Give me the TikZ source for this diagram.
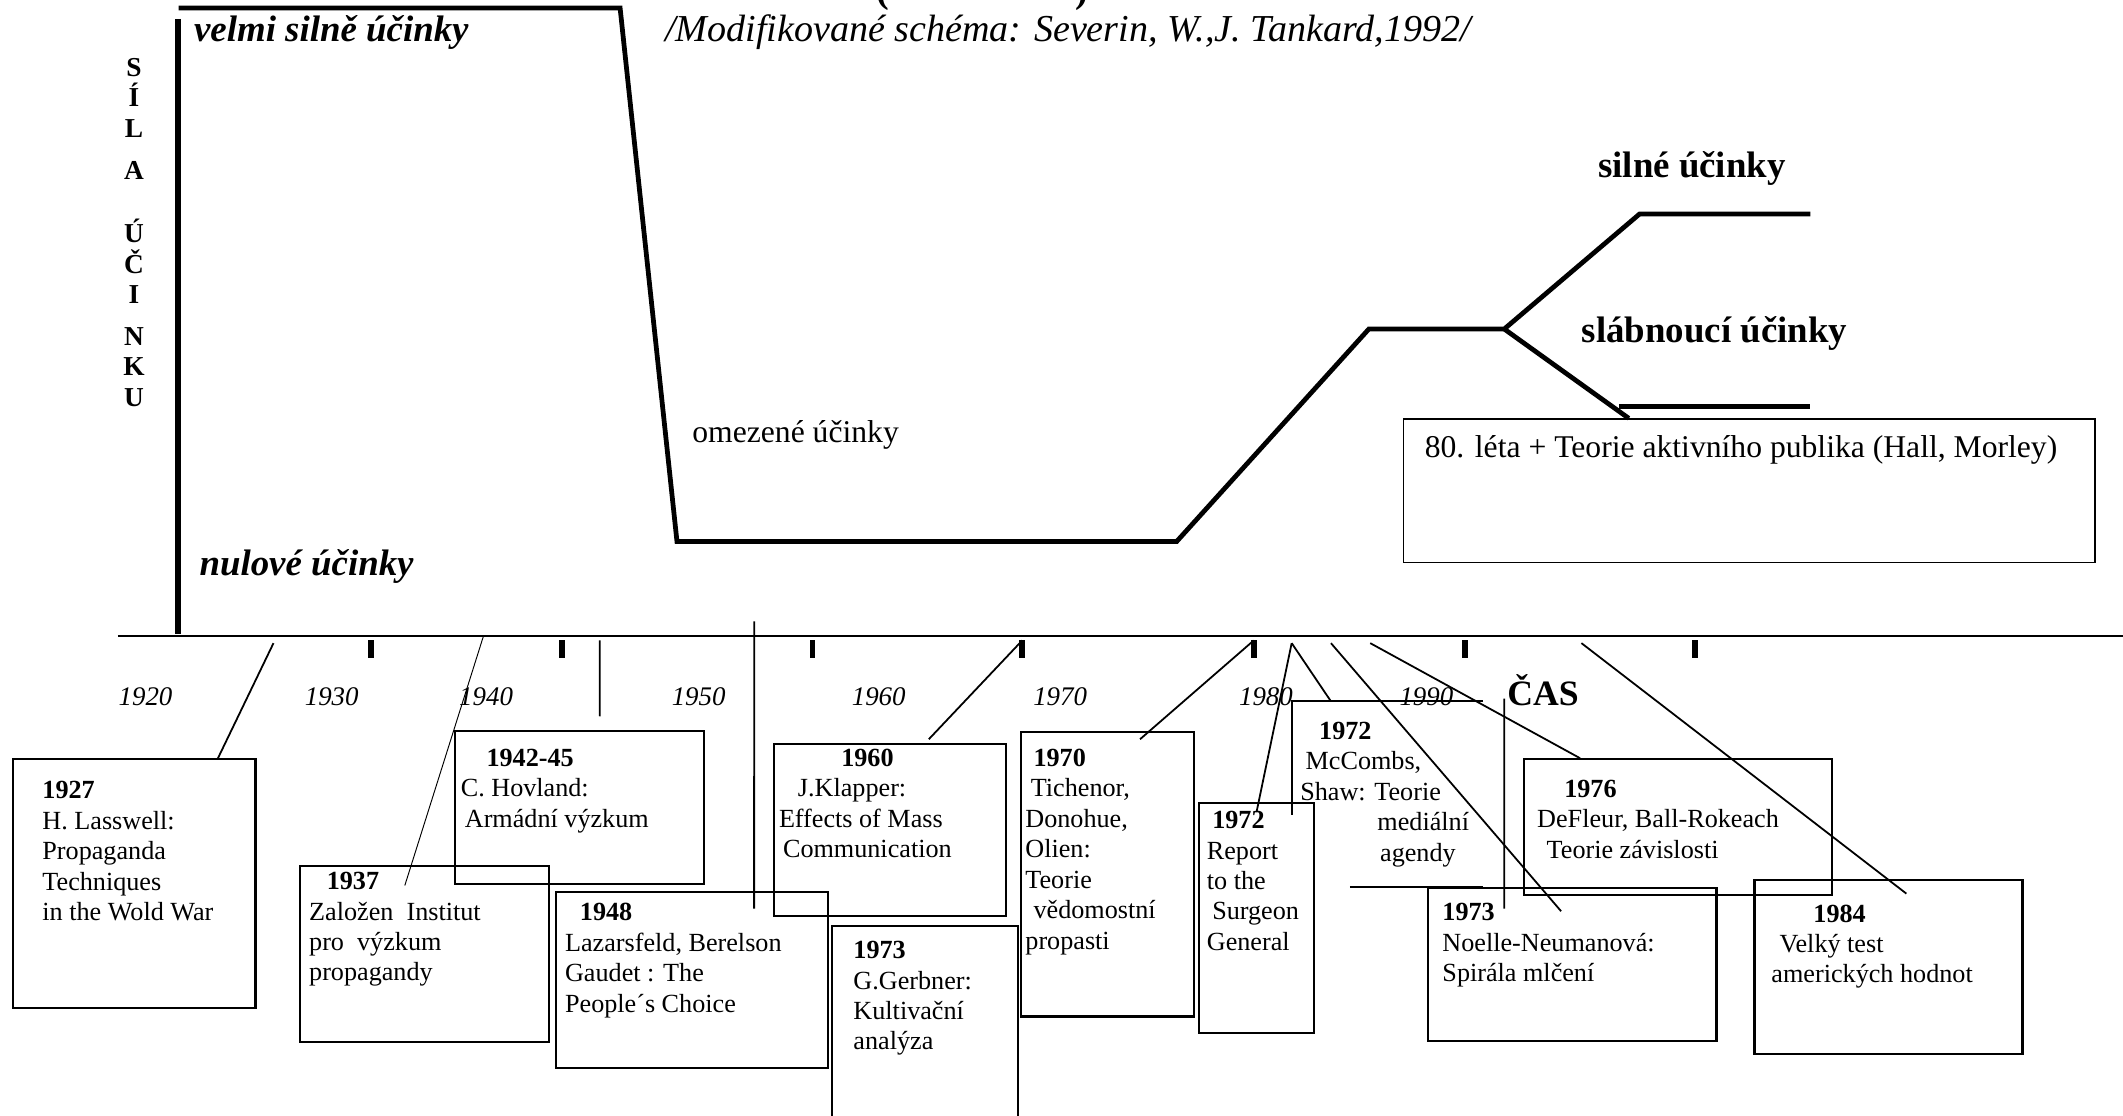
\documentclass[tikz,border=0pt]{standalone}
\usepackage{fontspec}
\setmainfont{Liberation Serif}
\begin{document}
\begin{tikzpicture}[
  x=0.02cm, y=-0.02cm,
  every node/.style={inner sep=0pt},
  krivka/.style={line width=2pt},
  osaY/.style={line width=2.5pt},
  os/.style={line width=0.9pt},
  znacka/.style={line width=2.4pt},
  spoj/.style={line width=0.75pt},
  tenky/.style={line width=0.4pt},
  ramecek/.style={draw, line width=0.9pt, anchor=north west},
  ramecekT/.style={draw, line width=0.6pt, anchor=north west},
  popis/.style={anchor=base west, font=\fontsize{11}{12.8}\selectfont},
  rok/.style={anchor=base, font=\fontsize{11.3}{13}\selectfont\itshape},
  ucinek/.style={anchor=base west, font=\fontsize{15.5}{18}\selectfont\bfseries},
  ucinekI/.style={anchor=base west, font=\fontsize{15.5}{18}\selectfont\bfseries\itshape},
  stredni/.style={anchor=base west, font=\fontsize{13.3}{15}\selectfont},
  svisle/.style={anchor=base, font=\fontsize{11.5}{12.8}\selectfont\bfseries},
  zdroj/.style={anchor=base west, font=\fontsize{16}{19}\selectfont\itshape},
  nadpis/.style={anchor=base, font=\fontsize{16}{19}\selectfont\bfseries}
]
  \useasboundingbox (0,0) rectangle (1568,824);

  % --- Nadpis (oriznuty) a zdroj ---
  \node[nadpis] (zavL) at (652,1.5) {(};
  \node[nadpis] (zavP) at (799,1.5) {)};
  \node[zdroj]  (zdroj) at (491,30.5) {/Modifikované schéma: Severin, W.,J. Tankard,1992/};

  % --- Osa sily ucinku ---
  \draw[osaY] (131.5,14) -- (131.5,468);
  \node[svisle] (sila) at (99,56.5)
    {\parbox[t]{1cm}{\centering S\\Í\\L\\[4.8pt]A\\[13.9pt]Ú\\Č\\I\\[4.8pt]N\\K\\U}};

  % --- Krivka ucinku ---
  \draw[krivka] (132,6) -- (458,6) -- (500,400) -- (869,400) -- (1011,243)
                -- (1111,243) -- (1211,158) -- (1337,158);
  \draw[krivka] (1111,243) -- (1203,309);
  \draw[krivka] (1196,300) -- (1337,300);

  \node[ucinekI] (velmi)     at (143,31)   {velmi silně účinky};
  \node[ucinekI] (nulove)    at (147,425)  {nulové účinky};
  \node[stredni] (omezene)   at (511,327)  {omezené účinky};
  \node[ucinek]  (silne)     at (1180,131) {silné účinky};
  \node[ucinek]  (slabnouci) at (1168,253) {slábnoucí účinky};

  \node[ramecekT, minimum width=10.22cm, minimum height=2.12cm] (r80) at (1036,309) {};
  \node[stredni] (t80) at (1052,338) {80. léta + Teorie aktivního publika (Hall, Morley)};

  % --- Casova osa ---
  \draw[os] (87,469.5) -- (1568,469.5);
  \draw[znacka] (274,473) -- (274,486)  (415,473) -- (415,486)  (600,473) -- (600,486)
                (755,473) -- (755,486)  (926,473) -- (926,486)  (1082,473) -- (1082,486)
                (1252,473) -- (1252,486);

  \node[rok] (rok1920) at (107.5,521) {1920};
  \node[rok] (rok1930) at (245,521)   {1930};
  \node[rok] (rok1940) at (359,521)   {1940};
  \node[rok] (rok1950) at (516,521)   {1950};
  \node[rok] (rok1960) at (649,521)   {1960};
  \node[rok] (rok1970) at (783,521)   {1970};
  \node[rok] (rok1980) at (935,521)   {1980};
  \node[rok] (rok1990) at (1053.5,521) {1990};
  \node[ucinek, font=\fontsize{15}{18}\selectfont\bfseries] (cas) at (1113,521) {ČAS};

  % --- Ramecky udalosti ---
  \node[ramecek, minimum width=3.58cm, minimum height=3.68cm] (r1927)  at (9,560)    {};
  \node[ramecek, minimum width=3.68cm, minimum height=2.6cm]  (r1937)  at (221,639)  {};
  \node[ramecek, minimum width=3.68cm, minimum height=2.26cm] (r1942)  at (335,539)  {};
  \node[ramecek, minimum width=4.02cm, minimum height=2.6cm]  (r1948)  at (410,658)  {};
  \node[ramecek, minimum width=3.42cm, minimum height=2.54cm] (r1960)  at (571,549)  {};
  \node[ramecek, minimum width=2.74cm, minimum height=3.4cm]  (r1973g) at (614,683)  {};
  \node[ramecek, minimum width=2.56cm, minimum height=4.2cm]  (r1970)  at (753,540)  {};
  \node[ramecek, minimum width=1.7cm,  minimum height=3.4cm]  (r1972r) at (885,592)  {};
  \node[ramecek, minimum width=4.54cm, minimum height=2.0cm]  (r1976)  at (1125,560) {};
  \node[ramecek, minimum width=4.26cm, minimum height=2.26cm] (r1973n) at (1054,655) {};
  \node[ramecek, minimum width=3.96cm, minimum height=2.58cm] (r1984)  at (1295,649) {};

  % --- neuzavreny ramecek McCombs ---
  \coordinate (m1972) at (954,518);
  \draw[line width=0.9pt] (1095,518) -- (m1972) -- (954,602);
  \draw[line width=0.9pt] (997,655) -- (1095,655);

  % --- Texty v rameccich ---
  \node[popis] (t1927) at (31,590)
    {\parbox[t]{5cm}{\textbf{1927}\\H. Lasswell:\\Propaganda\\Techniques\\in the Wold War}};
  \node[popis] (t1937) at (228,657)
    {\parbox[t]{5cm}{\hspace*{0.26cm}\textbf{1937}\\Založen\ \ Institut\\pro\ \ výzkum\\propagandy}};
  \node[popis] (t1942) at (340,566)
    {\parbox[t]{5cm}{\hspace*{0.38cm}\textbf{1942-45}\\C. Hovland:\\\hspace*{0.06cm}Armádní výzkum}};
  \node[popis] (t1948) at (417,680)
    {\parbox[t]{5cm}{\hspace*{0.22cm}\textbf{1948}\\Lazarsfeld, Berelson\\Gaudet : The\\People´s Choice}};
  \node[popis] (t1960) at (575,566)
    {\parbox[t]{5cm}{\hspace*{0.92cm}\textbf{1960}\\\hspace*{0.28cm}J.Klapper:\\Effects of Mass\\\hspace*{0.06cm}Communication}};
  \node[popis] (t1973g) at (630,708)
    {\parbox[t]{5cm}{\textbf{1973}\\G.Gerbner:\\Kultivační\\analýza}};
  \node[popis] (t1970) at (757,566)
    {\parbox[t]{5cm}{\hspace*{0.12cm}\textbf{1970}\\\hspace*{0.08cm}Tichenor,\\Donohue,\\Olien:\\Teorie\\\hspace*{0.12cm}vědomostní\\propasti}};
  \node[popis] (t1972r) at (891,612)
    {\parbox[t]{5cm}{\hspace*{0.08cm}\textbf{1972}\\Report\\to the\\\hspace*{0.08cm}Surgeon\\General}};
  \node[popis] (t1972m) at (960,546)
    {\parbox[t]{5cm}{\hspace*{0.28cm}\textbf{1972}\\\hspace*{0.08cm}McCombs,\\Shaw: Teorie\\\hspace*{1.14cm}mediální\\\hspace*{1.18cm}agendy}};
  \node[popis] (t1976) at (1135,589)
    {\parbox[t]{5cm}{\hspace*{0.4cm}\textbf{1976}\\DeFleur, Ball-Rokeach\\\hspace*{0.14cm}Teorie závislosti}};
  \node[popis] (t1973n) at (1065,680)
    {\parbox[t]{5cm}{\textbf{1973}\\Noelle-Neumanová:\\Spirála mlčení}};
  \node[popis] (t1984) at (1308,681)
    {\parbox[t]{5cm}{\hspace*{0.62cm}\textbf{1984}\\\hspace*{0.12cm}Velký test\\amerických hodnot}};

  % --- Spojnice od casove osy ---
  \coordinate (k1927) at (202,475);
  \coordinate (k1937) at (357,470);
  \coordinate (k1942) at (443,473);
  \coordinate (k1948) at (557,459);
  \coordinate (k1960) at (755,473);
  \coordinate (k1970) at (926,473);
  \coordinate (k1972) at (954,475);
  \coordinate (k1973) at (983,475);
  \coordinate (k1976) at (1012,475);
  \coordinate (k1984) at (1168,475);
  \coordinate (v1973) at (1111,516);

  \draw[spoj]  (k1927) -- ([xshift=3.04cm]r1927.north west);
  \draw[tenky] (k1937) -- ([xshift=1.56cm, yshift=-0.3cm]r1937.north west);
  \draw[spoj]  (k1942) -- ([xshift=2.16cm, yshift=0.2cm]r1942.north west);
  \draw[spoj]  (k1948) -- ([xshift=2.94cm, yshift=-0.26cm]r1948.north west);
  \draw[spoj]  (k1960) -- ([xshift=2.3cm, yshift=0.06cm]r1960.north west);
  \draw[spoj]  (k1970) -- ([xshift=1.78cm, yshift=-0.12cm]r1970.north west);
  \draw[spoj]  (k1972) -- ([xshift=0.86cm, yshift=-0.16cm]r1972r.north west);
  \draw[spoj]  (k1972) -- ([xshift=0.58cm]m1972);
  \draw[spoj]  (k1973) -- ([xshift=1.98cm, yshift=-0.36cm]r1973n.north west);
  \draw[spoj]  (k1976) -- ([xshift=0.84cm]r1976.north west);
  \draw[spoj]  (k1984) -- ([xshift=2.26cm, yshift=-0.22cm]r1984.north west);
  \draw[spoj]  (v1973) -- ([xshift=1.14cm, yshift=-0.32cm]r1973n.north west);
\end{tikzpicture}
\end{document}
